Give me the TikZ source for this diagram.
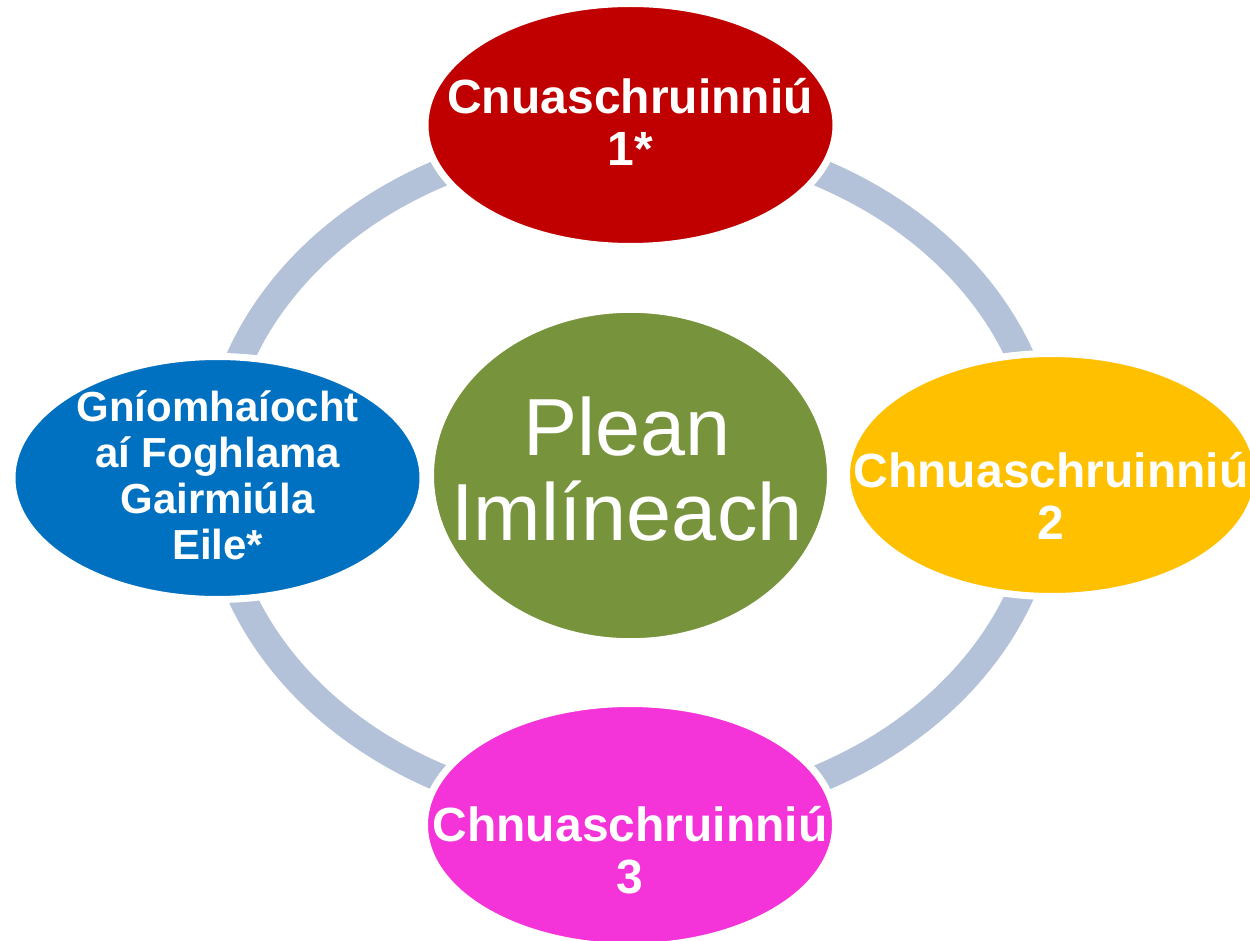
\documentclass[tikz,border=0pt]{standalone}
\usepackage{fontspec}
\setmainfont{Liberation Sans}
\usetikzlibrary{shapes.geometric}

\definecolor{ringblue}{RGB}{179,194,217}
\definecolor{cnred}{RGB}{192,0,0}
\definecolor{cnyellow}{RGB}{255,192,0}
\definecolor{cnpink}{RGB}{244,51,217}
\definecolor{cnblue}{RGB}{0,112,192}
\definecolor{planolive}{RGB}{119,147,60}

\tikzset{every picture/.style={line width=0.75pt}}

\begin{document}
\begin{tikzpicture}[x=0.75pt,y=0.75pt,yscale=-1,xscale=1,
  bubble/.style={ellipse, draw=white, line width=5.25pt, inner sep=0pt,
    minimum width=308.25pt, minimum height=182.25pt},
  bubbletext/.style={text=white, align=center, inner sep=0pt,
    font=\fontsize{36}{39}\selectfont\bfseries},
  ring/.style={draw=ringblue, line width=21pt}]
%set diagram size 1250 x 941
\path[use as bounding box] (0,0) rectangle (1250,941);

%Shape: Ellipse [centre]
\node[bubble, fill=planolive, minimum width=300pt, minimum height=249.3pt] (plan) at (630.5,475.5) {};
%Shape: Ring
\draw[ring] (plan.center) ellipse [x radius=416, y radius=340];

%Shape: Ellipse [top]
\node[bubble, fill=cnred] (meet1) at (630.5,125) {};
%Shape: Ellipse [right]
\node[bubble, fill=cnyellow] (meet2) at (1052,475) {};
%Shape: Ellipse [bottom]
\node[bubble, fill=cnpink] (meet3) at (630,825) {};
%Shape: Ellipse [left]
\node[bubble, fill=cnblue] (other) at (217.5,478) {};

% Text Node
\node[text=white, align=center, inner sep=0pt, font=\fontsize{60.75}{64.3}\selectfont] (plantext) at (627,469) {Plean\\Imlíneach};
% Text Node
\node[bubbletext] (meet1text) at (630,121.5) {Cnuaschruinniú\\1*};
% Text Node
\node[bubbletext] (meet2text) at (1051,496) {Chnuaschruinniú\\2};
% Text Node
\node[bubbletext] (meet3text) at (630,850) {Chnuaschruinniú\\3};
% Text Node
\node[bubbletext, font=\fontsize{31.5}{34.5}\selectfont\bfseries] (othertext) at (217.7,475) {Gníomhaíocht\\aí Foghlama\\Gairmiúla\\Eile*};

\end{tikzpicture}
\end{document}
